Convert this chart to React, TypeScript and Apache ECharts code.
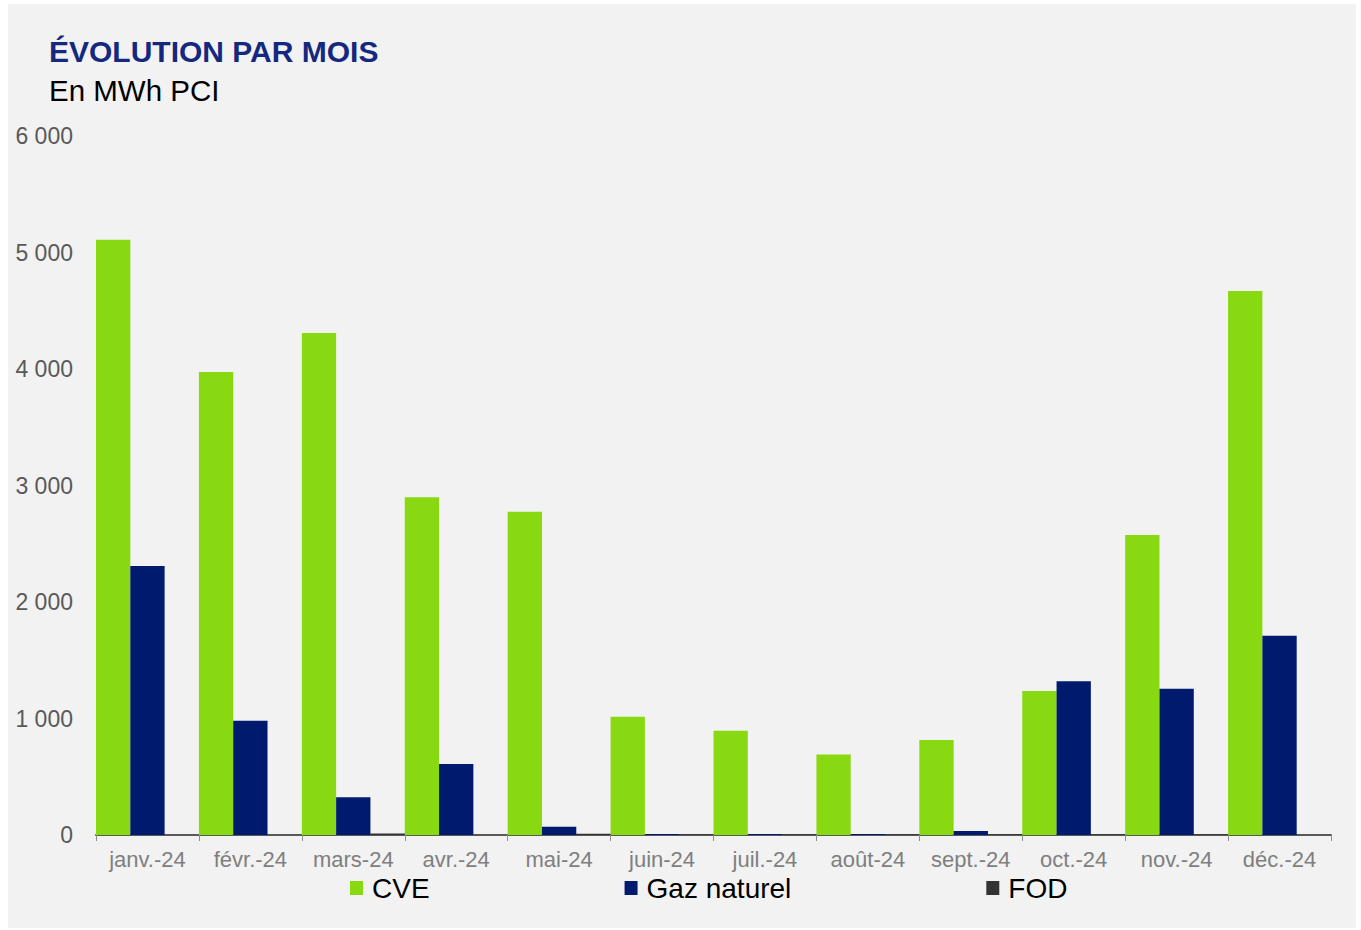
import React, { useEffect, useRef } from "react";
import * as echarts from "echarts";

const months = [
  "janv.-24", "févr.-24", "mars-24", "avr.-24", "mai-24", "juin-24",
  "juil.-24", "août-24", "sept.-24", "oct.-24", "nov.-24", "déc.-24",
];
const cve = [5110, 3975, 4310, 2900, 2775, 1015, 895, 690, 815, 1235, 2575, 4670];
const gazNaturel = [2310, 980, 325, 610, 70, 8, 8, 8, 35, 1320, 1255, 1710];
const fod = [0, 0, 12, 0, 10, 6, 6, 6, 6, 6, 6, 0];
const yTicks = { min: 0, max: 6000, interval: 1000 };

const FONT = "'Liberation Sans', Arial, sans-serif";

export default function App() {
  const ref = useRef<HTMLDivElement>(null);
  useEffect(() => {
    if (!ref.current) return;
    const chart = echarts.init(ref.current, undefined, { renderer: "svg" });
    chart.setOption({
      animation: false,
      backgroundColor: "#f2f2f2",
      textStyle: { fontFamily: FONT },
      graphic: [
        {
          type: "text",
          left: 41,
          top: 32,
          style: {
            text: "ÉVOLUTION PAR MOIS",
            fontFamily: FONT,
            fontSize: 30,
            fontWeight: "bold",
            fill: "#14287f",
          },
        },
        {
          type: "text",
          left: 41,
          top: 71,
          style: {
            text: "En MWh PCI",
            fontFamily: FONT,
            fontSize: 29.5,
            fill: "#000000",
          },
        },
      ],
      legend: {
        left: 342,
        top: 870,
        padding: 0,
        itemGap: 195,
        itemWidth: 13,
        itemHeight: 14,
        icon: "rect",
        textStyle: { fontFamily: FONT, fontSize: 28, color: "#000", padding: [0, 0, 0, 4] },
        data: ["CVE", "Gaz naturel", "FOD"],
      },
      grid: { left: 88, right: 25, top: 132, bottom: 93, containLabel: false },
      xAxis: {
        type: "category",
        data: months,
        axisLine: { show: true, lineStyle: { color: "#595959", width: 2 } },
        axisTick: { show: true, interval: 0, length: 6, lineStyle: { color: "#8c8c8c", width: 1 } },
        axisLabel: { interval: 0, color: "#7f7f7f", fontSize: 22, fontFamily: FONT, margin: 13 },
      },
      yAxis: {
        type: "value",
        min: yTicks.min,
        max: yTicks.max,
        interval: yTicks.interval,
        splitLine: { show: false },
        axisLine: { show: false },
        axisTick: { show: false },
        axisLabel: {
          color: "#595959",
          fontSize: 23,
          fontFamily: FONT,
          margin: 23,
          formatter: (v: number) => String(v).replace(/\B(?=(\d{3})+(?!\d))/g, " "),
        },
      },
      series: [
        {
          name: "CVE",
          type: "bar",
          data: cve,
          barGap: "0%",
          barCategoryGap: "0%",
          itemStyle: { color: "#88d911" },
        },
        {
          name: "Gaz naturel",
          type: "bar",
          data: gazNaturel,
          barGap: "0%",
          barCategoryGap: "0%",
          itemStyle: { color: "#001b6e" },
        },
        {
          name: "FOD",
          type: "bar",
          data: fod,
          barGap: "0%",
          barCategoryGap: "0%",
          itemStyle: { color: "#333333" },
        },
      ],
    });
    return () => chart.dispose();
  }, []);
  return (
    <div style={{ position: "absolute", left: 0, top: 0, width: 1361, height: 930, background: "#ffffff" }}>
      <div ref={ref} style={{ position: "absolute", left: 8, top: 4, width: 1348, height: 924 }} />
    </div>
  );
}
